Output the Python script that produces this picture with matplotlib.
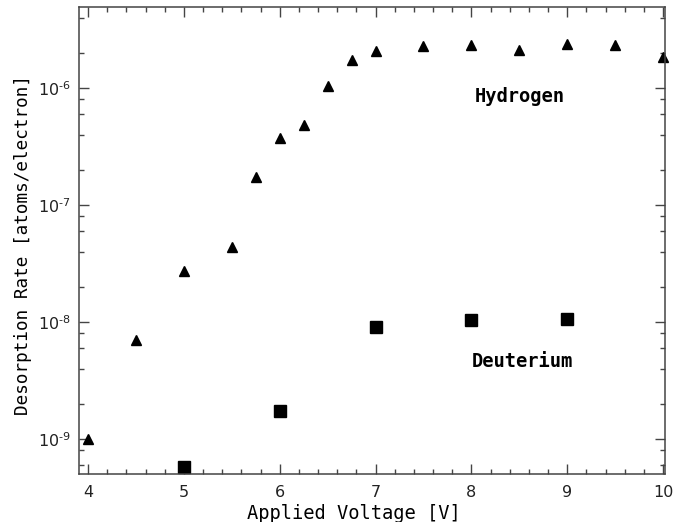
import numpy as np
import matplotlib
matplotlib.use('Agg')
import matplotlib.pyplot as plt
from matplotlib.ticker import LogLocator, MultipleLocator, NullFormatter, FuncFormatter

# hydrogen desorption rate vs applied voltage
h_volt = [4.0, 4.5, 5.0, 5.5, 5.75, 6.0, 6.25, 6.5, 6.75, 7.0, 7.5, 8.0, 8.5, 9.0, 9.5, 10.0]
h_rate = [1.0e-9, 7.0e-9, 2.75e-8, 4.4e-8, 1.72e-7, 3.74e-7, 4.86e-7, 1.05e-6,
          1.75e-6, 2.08e-6, 2.31e-6, 2.34e-6, 2.12e-6, 2.39e-6, 2.34e-6, 1.84e-6]

# deuterium desorption rate
d_volt = [5.0, 6.0, 7.0, 8.0, 9.0]
d_rate = [5.8e-10, 1.75e-9, 9.0e-9, 1.04e-8, 1.07e-8]


def exp_label(v, pos):
    n = int(round(np.log10(v)))
    return r'$\mathdefault{10^{\text{%d}}}$' % n


fig = plt.figure(figsize=(6.74, 5.22), dpi=100)
ax = fig.add_axes([0.1172, 0.0925, 0.8694, 0.8935])

ax.plot(h_volt, h_rate, '^', color='black', ms=7.8, clip_on=False)
ax.plot(d_volt, d_rate, 's', color='black', ms=8, clip_on=False)

ax.set_yscale('log')
ax.set_xlim(3.905, 10.02)
ax.set_ylim(5.05e-10, 4.9e-6)

ax.xaxis.set_major_locator(MultipleLocator(1))
ax.xaxis.set_minor_locator(MultipleLocator(0.2))
ax.yaxis.set_major_locator(LogLocator(base=10))
ax.yaxis.set_major_formatter(FuncFormatter(exp_label))
ax.yaxis.set_minor_locator(LogLocator(base=10, subs=[2, 4, 6, 8]))
ax.yaxis.set_minor_formatter(NullFormatter())

ax.tick_params(which='both', direction='in', top=True, right=True,
               color='#444444', labelsize=11.5, labelcolor='#222222')
ax.tick_params(axis='x', which='major', pad=8)
ax.tick_params(axis='y', which='major', pad=6)
ax.tick_params(which='major', length=7, width=1)
ax.tick_params(which='minor', length=3.5, width=1)
for s in ax.spines.values():
    s.set_color('#444444')
    s.set_linewidth(1.1)

mono = 'DejaVu Sans Mono'
ax.set_xlabel('Applied Voltage [V]', family=mono, fontsize=13.5)
ax.xaxis.set_label_coords(0.469, -0.065)
ax.set_ylabel('Desorption Rate [atoms/electron]', family=mono, fontsize=12.7)
ax.yaxis.set_label_coords(-0.08, 0.49)

ax.text(8.5, 8.5e-7, 'Hydrogen', family=mono, fontweight='bold', fontsize=13.5,
        ha='center', va='center')
ax.text(8.53, 4.6e-9, 'Deuterium', family=mono, fontweight='bold', fontsize=13.5,
        ha='center', va='center')

fig.savefig('out.png', dpi=100)
